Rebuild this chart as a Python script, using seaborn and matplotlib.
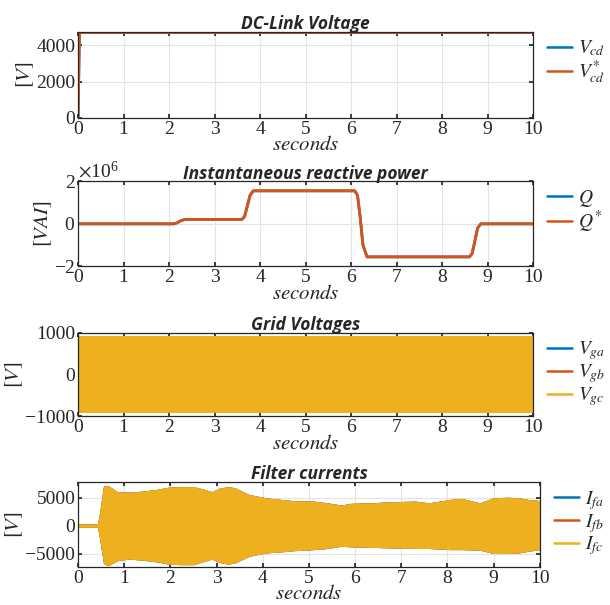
import numpy as np
import pandas as pd
import matplotlib.pyplot as plt
import seaborn as sns
from matplotlib.lines import Line2D

sns.set_theme(style="white")
plt.rcParams['font.family'] = ['Liberation Serif', 'DejaVu Serif']
plt.rcParams['mathtext.fontset'] = 'stix'

BLUE, ORANGE, YELLOW = '#0072BD', '#D95319', '#EDB120'

# DC-link voltage
t_dc = [0, 0.03, 10]
vcd = [0, 4700, 4700]
vcd_ref = [0, 4700, 4700]

# reactive power (VAr)
t_q = [0, 2.10, 2.18, 2.26, 2.35, 3.60, 3.66, 3.72, 3.78, 3.85, 6.08, 6.14, 6.20,
       6.26, 6.35, 8.60, 8.66, 8.72, 8.78, 8.85, 10]
q = [0, 0, 0.05e6, 0.15e6, 0.21e6, 0.21e6, 0.35e6, 0.85e6, 1.35e6, 1.56e6, 1.56e6,
     1.35e6, 0.3e6, -1.0e6, -1.56e6, -1.56e6, -1.4e6, -0.8e6, -0.2e6, 0, 0]
q_ref = q

# grid voltage envelope
t_vg = [0, 10]
vg_hi = [930, 930]
vg_lo = [-930, -930]

# filter current envelope
t_if = [0, 0.42, 0.47, 0.55, 0.65, 0.85, 1.1, 1.4, 1.7, 1.95, 2.2, 2.5, 2.7, 2.9,
        3.05, 3.25, 3.4, 3.7, 4.07, 4.4, 4.66, 5.1, 5.4, 5.7, 5.9, 6.35, 6.8, 7.3,
        7.6, 8.05, 8.3, 8.7, 9.0, 9.3, 9.55, 9.75, 10]
if_hi = [300, 300, 2500, 7100, 7200, 6100, 6000, 6200, 6500, 6900, 7000, 7000, 6600,
         6100, 6700, 7000, 6800, 5600, 5000, 4700, 4500, 4400, 4100, 3700, 4000, 4100,
         4300, 4400, 4100, 4700, 4900, 4100, 5000, 5100, 5000, 4700, 4500]
if_lo = [-300, -300, -2500, -6800, -7200, -6300, -6000, -6200, -6500, -6900, -7000,
         -7000, -6500, -6000, -6600, -6900, -6700, -5500, -4900, -4700, -4500, -4300,
         -4100, -3700, -3800, -3900, -4000, -4100, -4100, -4300, -4300, -4400, -5000,
         -5000, -4900, -4600, -4300]

fig = plt.figure(figsize=(6.1, 6.05), dpi=100)
ax1 = fig.add_axes([0.128, 0.805, 0.746, 0.142])
ax2 = fig.add_axes([0.128, 0.560, 0.746, 0.140])
ax3 = fig.add_axes([0.128, 0.312, 0.746, 0.138])
ax4 = fig.add_axes([0.128, 0.063, 0.757, 0.140])

title_kw = dict(fontfamily='Open Sans', fontweight='bold', fontstyle='italic', fontsize=12.5, pad=2)


def style(ax, title, ylabel):
    ax.set_xlim(0, 10)
    ax.set_xticks(range(0, 11))
    ax.grid(True, color='#e3e3e3', linewidth=0.8)
    ax.set_axisbelow(True)
    for s in ax.spines.values():
        s.set_color('#262626')
        s.set_linewidth(0.9)
    ax.tick_params(direction='in', length=3, labelsize=14, color='#262626', pad=2,
                   top=True, right=True, bottom=True, left=True)
    ax.set_title(title, **title_kw)
    ax.set_xlabel('$seconds$', fontsize=15, labelpad=-1)
    ax.set_ylabel(ylabel, fontsize=15, labelpad=0)


def legend(ax, labels, colors):
    handles = [Line2D([], [], color=c, lw=1.8) for c in colors]
    ax.legend(handles, labels, loc='upper left', bbox_to_anchor=(1.005, 1.06), frameon=False,
              fontsize=14, handlelength=1.3, handletextpad=0.3, labelspacing=0.0,
              borderaxespad=0.2)


df1 = pd.DataFrame({'t': t_dc + t_dc, 'v': vcd + vcd_ref,
                    's': ['a'] * len(t_dc) + ['b'] * len(t_dc)})
sns.lineplot(data=df1, x='t', y='v', hue='s', palette=[BLUE, ORANGE], lw=2,
             ax=ax1, legend=False, estimator=None)
ax1.set_ylim(0, 4720)
ax1.set_yticks([0, 2000, 4000])
style(ax1, 'DC-Link Voltage', '$[V]$')
legend(ax1, ['$V_{cd}$', '$V_{cd}^{*}$'], [BLUE, ORANGE])

df2 = pd.DataFrame({'t': t_q + t_q, 'q': q + q_ref,
                    's': ['a'] * len(t_q) + ['b'] * len(t_q)})
sns.lineplot(data=df2, x='t', y='q', hue='s', palette=[BLUE, ORANGE], lw=2,
             ax=ax2, legend=False, estimator=None)
ax2.set_ylim(-2e6, 2e6)
ax2.set_yticks([-2e6, 0, 2e6])
ax2.ticklabel_format(axis='y', style='sci', scilimits=(0, 0), useMathText=True)
ax2.yaxis.get_offset_text().set_fontsize(14)
style(ax2, 'Instantaneous reactive power', '$[VAI]$')
legend(ax2, ['$Q$', '$Q^{*}$'], [BLUE, ORANGE])

for c in [BLUE, ORANGE, YELLOW]:
    ax3.fill_between(t_vg, vg_lo, vg_hi, color=c, lw=0)
ax3.set_ylim(-1000, 1000)
ax3.set_yticks([-1000, 0, 1000])
style(ax3, 'Grid Voltages', '$[V]$')
legend(ax3, ['$V_{ga}$', '$V_{gb}$', '$V_{gc}$'], [BLUE, ORANGE, YELLOW])

for c in [BLUE, ORANGE, YELLOW]:
    ax4.fill_between(t_if, if_lo, if_hi, color=c, lw=0)
ax4.set_ylim(-7400, 7800)
ax4.set_yticks([-5000, 0, 5000])
style(ax4, 'Filter currents', '$[V]$')
legend(ax4, ['$I_{fa}$', '$I_{fb}$', '$I_{fc}$'], [BLUE, ORANGE, YELLOW])

fig.savefig('out.png', dpi=100)
